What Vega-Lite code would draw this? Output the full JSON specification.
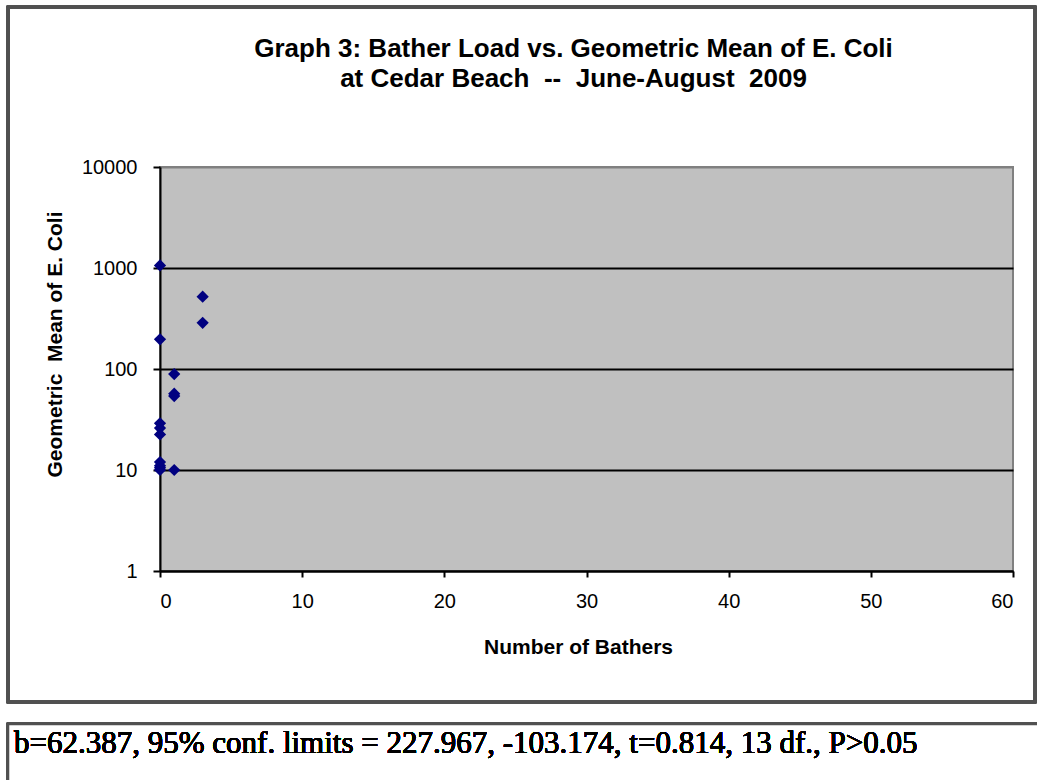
{
  "$schema": "https://vega.github.io/schema/vega-lite/v6.json",
  "autosize": "none",
  "width": 853,
  "height": 404,
  "padding": {"left": 160, "top": 167, "right": 24, "bottom": 209},
  "background": "white",
  "title": {
    "text": ["Graph 3: Bather Load vs. Geometric Mean of E. Coli", "at Cedar Beach \u00a0--\u00a0 June-August \u00a02009"],
    "font": "Liberation Sans",
    "fontSize": 26,
    "fontWeight": "bold",
    "color": "black",
    "anchor": "middle",
    "dx": -13,
    "offset": -86,
    "lineHeight": 30
  },
  "config": {
    "view": {"fill": "#c0c0c0", "stroke": "#808080", "strokeWidth": 2},
    "axis": {"labelFont": "Liberation Sans", "titleFont": "Liberation Sans", "labelColor": "black", "titleColor": "black"}
  },
  "data": {
    "values": [
      {"bathers": 0, "ecoli": 1060},
      {"bathers": 0, "ecoli": 197},
      {"bathers": 0, "ecoli": 29},
      {"bathers": 0, "ecoli": 26},
      {"bathers": 0, "ecoli": 22.5},
      {"bathers": 0, "ecoli": 12},
      {"bathers": 0, "ecoli": 11},
      {"bathers": 0, "ecoli": 10.5},
      {"bathers": 0, "ecoli": 10},
      {"bathers": 1, "ecoli": 89},
      {"bathers": 1, "ecoli": 57},
      {"bathers": 1, "ecoli": 54},
      {"bathers": 1, "ecoli": 10},
      {"bathers": 3, "ecoli": 520},
      {"bathers": 3, "ecoli": 287}
    ]
  },
  "encoding": {
    "x": {
      "field": "bathers", "type": "quantitative",
      "scale": {"domain": [0, 60], "nice": false, "zero": false},
      "axis": {
        "title": "Number of Bathers",
        "values": [0, 10, 20, 30, 40, 50, 60],
        "grid": false,
        "domainColor": "black", "domainWidth": 2,
        "tickColor": "black", "tickWidth": 2, "tickSize": 6,
        "labelFontSize": 20, "labelPadding": 14,
        "titleFontSize": 21, "titleFontWeight": "bold",
        "titleX": 418, "titleY": 76, "titleBaseline": "middle"
      }
    },
    "y": {
      "field": "ecoli", "type": "quantitative",
      "scale": {"type": "log", "domain": [1, 10000], "nice": false},
      "axis": {
        "title": "Geometric \u00a0Mean of E. Coli",
        "values": [1, 10, 100, 1000, 10000],
        "format": "d",
        "grid": true,
        "gridColor": {"condition": {"test": "datum.value == 10000", "value": "#808080"}, "value": "black"},
        "gridWidth": 2,
        "domainColor": "black", "domainWidth": 2,
        "tickColor": "black", "tickWidth": 2, "tickSize": 7,
        "labelFontSize": 20, "labelPadding": 16,
        "titleFontSize": 21, "titleFontWeight": "bold",
        "titleX": -105, "titleY": 177, "titleBaseline": "middle"
      }
    }
  },
  "layer": [
    {
      "mark": {"type": "rect", "fill": null, "fillOpacity": 0, "stroke": "#505050", "strokeWidth": 2.5, "clip": false},
      "encoding": {
        "x": {"datum": -10.69},
        "x2": {"datum": 61.55},
        "y": {"datum": 383700},
        "y2": {"datum": 0.0505}
      }
    },
    {
      "mark": {"type": "rect", "fill": "white", "stroke": "#505050", "strokeWidth": 2.5, "clip": false},
      "encoding": {
        "x": {"datum": -10.69},
        "x2": {"datum": 63},
        "y": {"datum": 0.0306},
        "y2": {"datum": 0.006}
      }
    },
    {
      "mark": {"type": "text", "font": "Liberation Serif", "fontSize": 31, "fontWeight": "normal", "align": "left", "baseline": "alphabetic", "fill": "black", "stroke": null, "text": "b=62.387, 95% conf. limits = 227.967, -103.174, t=0.814, 13 df., P>0.05"},
      "encoding": {
        "x": {"datum": -10.27},
        "y": {"datum": 0.0158}
      }
    },
    {
      "mark": {"type": "point", "shape": "diamond", "filled": true, "color": "#000080", "size": 150, "opacity": 1}
    }
  ]
}
